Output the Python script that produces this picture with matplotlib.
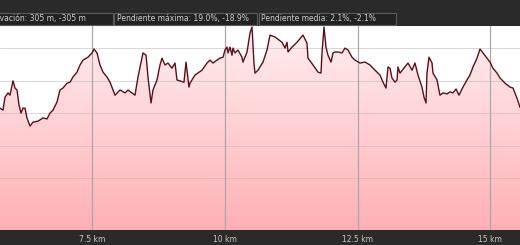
import matplotlib
matplotlib.use('Agg')
import matplotlib.pyplot as plt
from matplotlib.patches import Rectangle
import numpy as np

# distance (km) and elevation (m) read from the profile
dist = [5.767, 5.824, 5.861, 5.918, 5.955, 6.012, 6.050, 6.087, 6.125, 6.162,
        6.200, 6.238, 6.275, 6.332, 6.388, 6.483, 6.577, 6.652, 6.709, 6.765,
        6.840, 6.897, 6.953, 7.029, 7.085, 7.142, 7.217, 7.274, 7.330, 7.424,
        7.500, 7.537, 7.594, 7.650, 7.707, 7.782, 7.839, 7.933, 8.027, 8.121,
        8.178, 8.253, 8.309, 8.366, 8.460, 8.517, 8.554, 8.611, 8.648, 8.724,
        8.780, 8.818, 8.874, 8.931, 9.006, 9.063, 9.100, 9.157, 9.232, 9.270,
        9.326, 9.345, 9.439, 9.571, 9.665, 9.722, 9.778, 9.854, 9.910, 9.967,
        10.004, 10.042, 10.061, 10.099, 10.136, 10.155, 10.193, 10.249, 10.324, 10.343,
        10.419, 10.475, 10.513, 10.550, 10.569, 10.626, 10.720, 10.795, 10.852, 10.946,
        11.078, 11.134, 11.172, 11.191, 11.266, 11.360, 11.473, 11.549, 11.567, 11.662,
        11.756, 11.812, 11.831, 11.869, 11.906, 11.944, 12.001, 12.038, 12.076, 12.132,
        12.208, 12.264, 12.321, 12.396, 12.453, 12.547, 12.641, 12.735, 12.829, 12.923,
        12.980, 13.036, 13.074, 13.112, 13.149, 13.206, 13.244, 13.262, 13.300, 13.394,
        13.451, 13.526, 13.582, 13.639, 13.714, 13.752, 13.790, 13.808, 13.846, 13.903,
        13.921, 13.997, 14.053, 14.110, 14.185, 14.242, 14.298, 14.355, 14.411, 14.486,
        14.562, 14.618, 14.675, 14.750, 14.807, 14.863, 14.938, 14.995, 15.051, 15.127,
        15.183, 15.277, 15.372, 15.428, 15.503, 15.560]
elev = [111.5, 110.9, 114.9, 116.2, 115.5, 119.9, 117.7, 117.1, 112.5, 110.0,
        111.5, 111.5, 108.5, 106.0, 107.2, 107.5, 108.5, 108.2, 110.0, 110.9,
        113.4, 117.1, 117.7, 119.2, 119.5, 121.1, 122.6, 124.8, 126.3, 127.2,
        128.5, 129.7, 128.5, 124.8, 122.6, 121.1, 119.5, 115.5, 117.1, 116.2,
        117.1, 116.2, 115.5, 121.1, 128.5, 127.8, 121.1, 113.1, 117.1, 120.2,
        124.8, 126.9, 124.8, 125.4, 123.8, 125.4, 120.2, 119.9, 119.5, 125.7,
        118.0, 119.2, 121.7, 123.2, 125.4, 126.3, 125.4, 126.3, 126.9, 127.2,
        129.4, 130.3, 128.5, 130.3, 127.8, 130.0, 128.5, 129.4, 127.2, 125.7,
        128.8, 134.6, 136.5, 125.4, 122.3, 123.2, 125.7, 129.4, 134.0, 133.4,
        131.8, 130.0, 131.8, 128.8, 130.3, 131.8, 134.0, 131.5, 126.9, 124.8,
        122.6, 122.3, 128.5, 136.5, 130.3, 127.8, 125.7, 128.5, 128.8, 128.8,
        128.5, 130.0, 129.4, 127.2, 126.3, 125.4, 125.7, 124.8, 123.2, 121.7,
        119.5, 117.7, 124.2, 123.8, 120.8, 119.5, 120.2, 124.2, 122.3, 124.2,
        125.4, 123.2, 125.4, 121.7, 118.0, 114.9, 113.1, 122.3, 127.2, 125.4,
        122.3, 120.2, 115.5, 116.2, 115.9, 116.5, 116.2, 117.4, 115.5, 118.0,
        120.2, 121.7, 124.2, 126.9, 129.7, 128.5, 126.9, 125.7, 123.8, 122.3,
        120.8, 119.2, 118.0, 117.7, 114.6, 111.8]

km_ticks = [7.5, 10, 12.5, 15]
km_labels = ['7.5 km', '10 km', '12.5 km', '15 km']
elev_grid = [90, 100, 110, 120, 130]

stats = ['Elevación: 305 m, -305 m',
         'Pendiente máxima: 19.0%, -18.9%',
         'Pendiente media: 2.1%, -2.1%']

W, H = 520, 245
fig = plt.figure(figsize=(W / 100, H / 100), dpi=100, facecolor='#2a2a2a')
ax = fig.add_axes([0, 15 / H, 1, 204 / H])
ax.set_facecolor('white')

x0, x1 = 5.767, 15.56
y0, y1 = 74.0, 136.8
ax.set_xlim(x0, x1)
ax.set_ylim(y0, y1)

# gradient fill under the profile
grad = np.linspace(0, 1, 256).reshape(-1, 1)
top = np.array([1.0, 0.94, 0.945])
bot = np.array([1.0, 0.69, 0.71])
img = top + (bot - top) * grad[:, :, None]
im = ax.imshow(img, extent=[x0, x1, y0, y1], origin='upper', aspect='auto', zorder=1)
poly = ax.fill_between(dist, elev, y0, color='none', lw=0)
im.set_clip_path(poly.get_paths()[0], transform=ax.transData)

for e in elev_grid:
    ax.axhline(e, color='#bdbdbd', lw=0.7, alpha=0.6, zorder=2)
for k in km_ticks:
    ax.axvline(k, color='#a8a8a8', lw=0.9, zorder=2)

ax.plot(dist, elev, color='#5a0f1a', lw=1.0, zorder=4)

ax.set_xticks(km_ticks)
ax.set_xticklabels(km_labels)
ax.set_yticks([])
ax.tick_params(axis='x', length=0, pad=3.5, labelsize=5.5, labelcolor='#c8c8c8')
for s in ax.spines.values():
    s.set_visible(False)

# stats boxes in the top band
boxes = [(-5, 113), (114, 257), (259, 396)]
for (bx0, bx1), txt in zip(boxes, stats):
    fig.patches.append(Rectangle((bx0 / W, 1 - 25 / H), (bx1 - bx0) / W, 12 / H,
                                 transform=fig.transFigure, facecolor='#222222',
                                 edgecolor='#5a5a5a', lw=0.8))
fig.text(86 / W, 1 - 19 / H, stats[0], ha='right', va='center', fontsize=5.5, color='#d0d0d0')
fig.text(117 / W, 1 - 19 / H, stats[1], ha='left', va='center', fontsize=5.5, color='#d0d0d0')
fig.text(261 / W, 1 - 19 / H, stats[2], ha='left', va='center', fontsize=5.5, color='#d0d0d0')

fig.savefig('out.png', dpi=100, facecolor=fig.get_facecolor())
